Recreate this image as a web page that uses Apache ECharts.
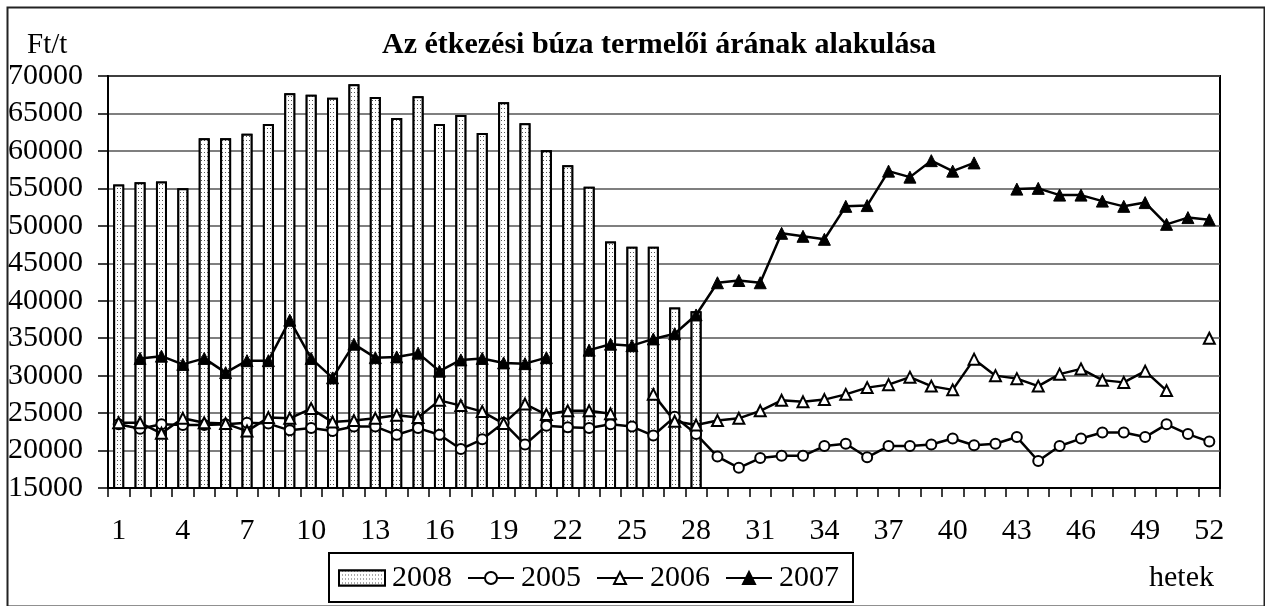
<!DOCTYPE html>
<html>
<head>
<meta charset="utf-8">
<script src="https://cdn.jsdelivr.net/npm/echarts@6/dist/echarts.min.js"></script>
<style>
  html, body { margin: 0; padding: 0; background: #fff; }
  #chart { width: 1265px; height: 606px; }
</style>
</head>
<body>
<div id="chart"></div>
<script>
// Hetek (kategóriák)
const hetek = ['1','2','3','4','5','6','7','8','9','10','11','12','13','14','15','16','17','18','19','20',
  '21','22','23','24','25','26','27','28','29','30','31','32','33','34','35','36','37','38','39','40',
  '41','42','43','44','45','46','47','48','49','50','51','52'];

// 2008 - oszlopok
const ev2008 = [55500, 55800, 55900, 55000, 61700, 61700, 62300, 63600, 67700, 67500,
  67100, 68900, 67200, 64400, 67300, 63600, 64800, 62400, 66500, 63700,
  60100, 58100, 55200, 47900, 47200, 47200, 39100, 38600, null, null,
  null, null, null, null, null, null, null, null, null, null,
  null, null, null, null, null, null, null, null, null, null, null, null];

// 2005 - üres kör
const ev2005 = [23500, 22900, 23500, 23400, 23400, 23500, 23700, 23600, 22700, 23000,
  22600, 23200, 23200, 22100, 23000, 22100, 20200, 21500, 23700, 20800,
  23300, 23100, 23000, 23500, 23200, 22000, 24500, 22200, 19200, 17700,
  19000, 19300, 19300, 20600, 20900, 19100, 20600, 20600, 20800, 21600,
  20700, 20900, 21800, 18600, 20600, 21600, 22400, 22400, 21800, 23500, 22200, 21200];

// 2006 - üres háromszög
const ev2006 = [23700, 23700, 22300, 24300, 23700, 23600, 22600, 24400, 24300, 25600,
  23800, 24000, 24300, 24700, 24400, 26700, 26000, 25200, 23600, 26200,
  24800, 25300, 25300, 24900, null, 27500, 23900, 23400, 24000, 24300,
  25300, 26700, 26500, 26800, 27500, 28400, 28800, 29800, 28600, 28100,
  32200, 30000, 29600, 28600, 30200, 30900, 29400, 29100, 30600, 28000, null, 35000];

// 2007 - teli háromszög
const ev2007 = [null, 32300, 32600, 31500, 32300, 30400, 32000, 32000, 37400, 32300,
  29700, 34200, 32400, 32500, 33000, 30600, 32100, 32300, 31700, 31600,
  32400, null, 33400, 34200, 34000, 34900, 35600, 38100, 42400, 42700,
  42400, 49000, 48600, 48200, 52600, 52700, 57300, 56500, 58700, 57300,
  58400, null, 54900, 55000, 54100, 54100, 53300, 52600, 53100, 50200, 51100, 50800];

const betu = "'Liberation Serif', 'Times New Roman', serif";

const chart = echarts.init(document.getElementById('chart'));

const option = {
    animation: false,
    backgroundColor: '#fff',
    title: {
        text: 'Az étkezési búza termelői árának alakulása',
        left: 377,
        top: 25,
        textStyle: { fontFamily: betu, fontSize: 30, fontWeight: 'bold', color: '#000' }
    },
    legend: {
        left: 329,
        top: 553,
        padding: [10, 14, 9, 9],
        itemWidth: 46,
        itemHeight: 15,
        itemGap: 15,
        borderColor: '#000',
        borderWidth: 2,
        textStyle: { fontFamily: betu, fontSize: 30, color: '#000', padding: [0, 0, 0, 2] },
        data: [
            { name: '2008', icon: 'rect' },
            { name: '2005' },
            { name: '2006' },
            { name: '2007' }
        ]
    },
    grid: { left: 108, right: 45, top: 76, bottom: 118, show: true, borderColor: '#000', borderWidth: 2 },
    xAxis: {
        type: 'category',
        data: hetek,
        axisLine: { lineStyle: { color: '#000', width: 2 } },
        axisTick: { show: true, interval: 0, length: 9, lineStyle: { color: '#000', width: 1.5 } },
        axisLabel: { interval: 2, color: '#000', fontFamily: betu, fontSize: 30, margin: 28 },
        splitLine: { show: false }
    },
    yAxis: {
        type: 'value',
        min: 15000,
        max: 70000,
        interval: 5000,
        axisLine: { show: true, lineStyle: { color: '#000', width: 2 } },
        axisTick: { show: true, length: 10, lineStyle: { color: '#000', width: 1.5 } },
        axisLabel: {
            color: '#000', fontFamily: betu, fontSize: 30, margin: 25,
            formatter: function (v) { return String(v); }
        },
        splitLine: { lineStyle: { color: '#555', width: 1.5 } }
    },
    series: [
        {
            name: '2008',
            type: 'bar',
            data: ev2008,
            barWidth: 11,
            itemStyle: {
                color: '#fff',
                borderColor: '#000',
                borderWidth: 2,
                decal: {
                    symbol: 'rect',
                    symbolSize: 1,
                    color: '#555',
                    backgroundColor: '#fff',
                    dashArrayX: [1, 2],
                    dashArrayY: [1, 3],
                    rotation: 0
                }
            }
        },
        {
            name: '2005',
            type: 'line',
            data: ev2005,
            symbol: 'circle',
            symbolSize: 10,
            showAllSymbol: true,
            lineStyle: { color: '#000', width: 2.5 },
            itemStyle: { color: '#fff', borderColor: '#000', borderWidth: 2 }
        },
        {
            name: '2006',
            type: 'line',
            data: ev2006,
            symbol: 'triangle',
            symbolSize: 11,
            showAllSymbol: true,
            lineStyle: { color: '#000', width: 2.5 },
            itemStyle: { color: '#fff', borderColor: '#000', borderWidth: 2 }
        },
        {
            name: '2007',
            type: 'line',
            data: ev2007,
            symbol: 'triangle',
            symbolSize: 12,
            showAllSymbol: true,
            lineStyle: { color: '#000', width: 2.5 },
            itemStyle: { color: '#000', borderColor: '#000', borderWidth: 1 }
        }
    ],
    graphic: [
        {
            type: 'rect',
            left: 5, top: 5,
            shape: { width: 1257, height: 599 },
            style: { fill: 'none', stroke: '#222', lineWidth: 2 },
            silent: true
        },
        {
            type: 'text',
            left: 27, top: 31,
            style: { text: 'Ft/t', fontFamily: betu, fontSize: 29, fill: '#000' }
        },
        {
            type: 'text',
            left: 1149, top: 563,
            style: { text: 'hetek', fontFamily: betu, fontSize: 30, fill: '#000' }
        }
    ]
};

chart.setOption(option);
window.addEventListener('resize', () => chart.resize());
</script>
</body>
</html>
